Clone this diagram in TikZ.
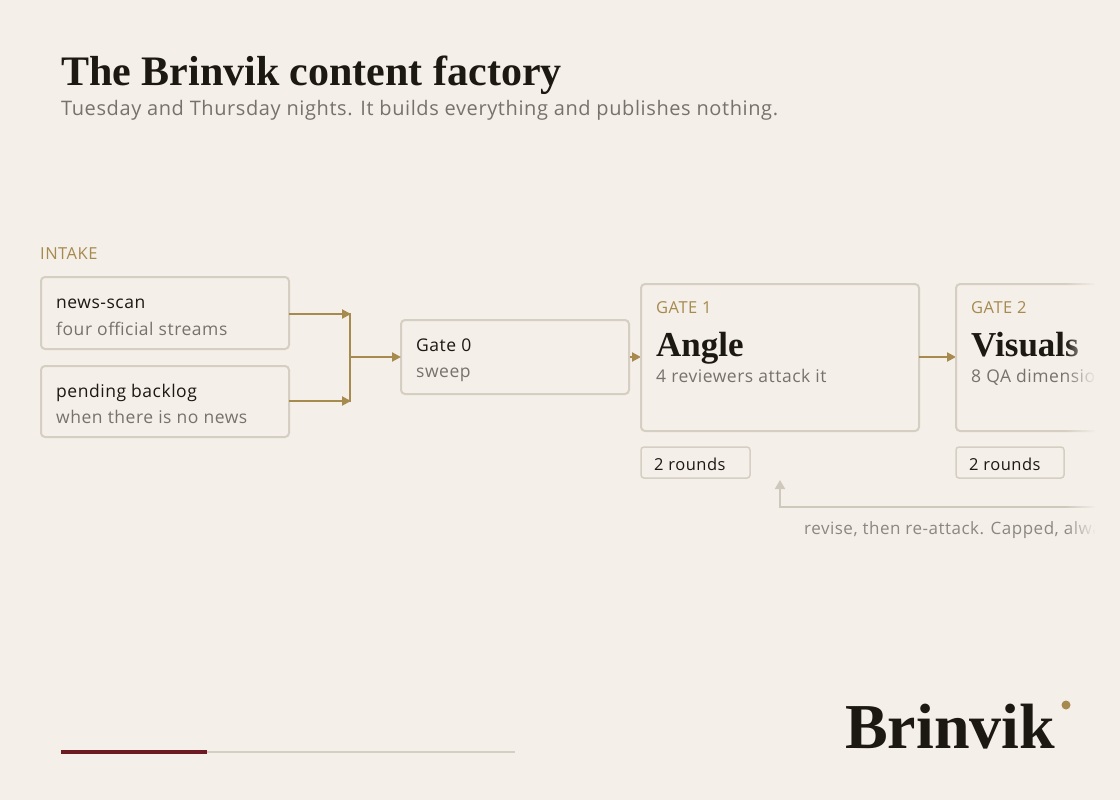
\documentclass[tikz,border=0pt]{standalone}
\usepackage{fontspec}
\setmainfont{Liberation Serif}
\setsansfont{Open Sans}[LetterSpace=3]
\usetikzlibrary{arrows.meta,fadings}
\definecolor{bg}{HTML}{F4EFE8}
\definecolor{gold}{HTML}{A68A4E}
\definecolor{edge}{HTML}{D5CEC2}
\definecolor{ink}{HTML}{1C1812}
\definecolor{mute}{HTML}{77726B}
\definecolor{wine}{HTML}{6E1A22}
\definecolor{fb}{HTML}{CFC8BC}
\begin{document}
\begin{tikzpicture}[x=1pt,y=-1pt,
  box/.style={draw=edge,line width=2pt,rounded corners=4pt,fill=bg},
  small/.style={draw=edge,line width=1.5pt,rounded corners=3pt,fill=bg},
  flow/.style={draw=gold,line width=2pt,-{Triangle[length=9pt,width=9pt]}},
  tl/.style={anchor=base west,font=\sffamily\fontsize{17.5}{20}\selectfont,text=ink,inner sep=0pt},
  sl/.style={anchor=base west,font=\sffamily\fontsize{17.5}{20}\selectfont,text=mute,inner sep=0pt},
  kicker/.style={anchor=base west,font=\sffamily\fontsize{16.5}{20}\selectfont,text=gold,inner sep=0pt},
  big/.style={anchor=base west,font=\bfseries\fontsize{35}{40}\selectfont,text=ink,inner sep=0pt}]
\fill[bg] (0,0) rectangle (1120,800);
\useasboundingbox (0,0) rectangle (1120,800);
\node[anchor=base west,inner sep=0pt,font=\bfseries\fontsize{42}{46}\selectfont,text=ink] (title) at (61,86) {The Brinvik content factory};
\node[anchor=base west,inner sep=0pt,font=\sffamily\fontsize{20}{22}\selectfont,text=mute] (sub) at (61,116) {Tuesday and Thursday nights. It builds everything and publishes nothing.};
\node[kicker] (intake) at (40,259) {INTAKE};
% intake boxes
\draw[box] (41,277) rectangle (289,349);
\node[tl] (ns) at (56,308) {news-scan};
\node[sl] (nss) at (56,335) {four official streams};
\draw[box] (41,366) rectangle (289,437);
\node[tl] (pb) at (56,397) {pending backlog};
\node[sl] (pbs) at (56,423) {when there is no news};
\coordinate (a1) at (289,314); \coordinate (b1) at (351,314);
\coordinate (a2) at (289,401); \coordinate (b2) at (351,401);
\coordinate (m) at (350,357);
\draw[flow] (a1) -- (b1);
\draw[flow] (a2) -- (b2);
\draw[gold,line width=2pt] (350,313) -- (350,402);
% gate 0
\draw[box] (401,320) rectangle (629,394);
\node[tl] (g0) at (416,351) {Gate 0};
\node[sl] (g0s) at (416,377) {sweep};
\coordinate (g0in) at (401,357);
\draw[flow] (m) -- (g0in);
\coordinate (g0out) at (630,357); \coordinate (g1in) at (641,357);
\draw[flow] (g0out) -- (g1in);
% gate 1
\draw[box] (641,284) rectangle (919,431);
\node[kicker] (k1) at (656,313) {GATE 1};
\node[big] (angle) at (656,356) {Angle};
\node[sl] (as) at (656,382) {4 reviewers attack it};
\draw[small] (641,447) rectangle (750,478);
\node[tl,font=\sffamily\fontsize{16.5}{20}\selectfont] (r1) at (654,470) {2 rounds};
\coordinate (g1out) at (919,357); \coordinate (g2in) at (956,357);
\draw[flow] (g1out) -- (g2in);
% gate 2
\draw[box] (956,284) rectangle (1140,431);
\node[kicker] (k2) at (971,313) {GATE 2};
\node[big] (vis) at (971,356) {Visuals};
\node[sl] (vs) at (971,382) {8 QA dimensions};
\draw[small] (956,447) rectangle (1064,478);
\node[tl,font=\sffamily\fontsize{16.5}{20}\selectfont] (r2) at (969,470) {2 rounds};
% feedback
\coordinate (fbs) at (1130,507); \coordinate (fbc) at (780,507); \coordinate (fbe) at (780,480);
\draw[fb,line width=2pt,-{Triangle[length=9pt,width=10pt]}] (fbs) -- (fbc) -- (fbe);
\node[sl,font=\sffamily\fontsize{17}{20}\selectfont,text=mute!85] (fbt) at (804,534) {revise, then re-attack. Capped, always};
% fade right edge
\fill[bg,path fading=west] (1065,260) rectangle (1096,560);
\fill[bg] (1095,260) rectangle (1120,560);
% bottom bar
\draw[edge,line width=2pt] (61,752) -- (515,752);
\draw[wine,line width=4pt] (61,752) -- (207,752);
\node[anchor=base west,inner sep=0pt,font=\bfseries\fontsize{64}{70}\selectfont,text=ink] (logo) at (845,748) {Brinvik};
\fill[gold] (1066,705) circle (4.5);
\end{tikzpicture}
\end{document}
